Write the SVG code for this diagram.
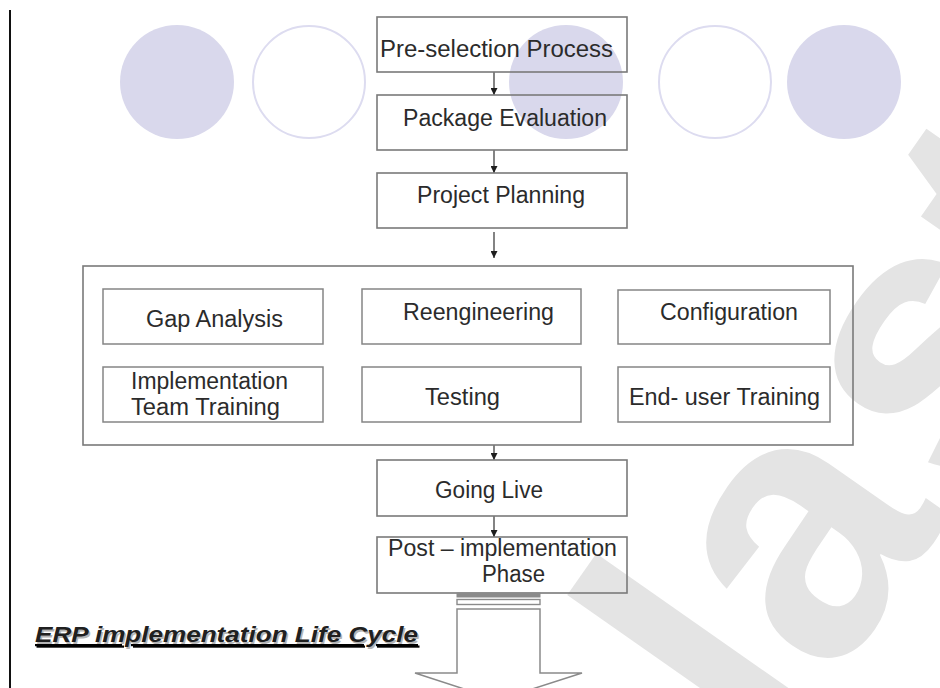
<svg xmlns="http://www.w3.org/2000/svg" width="940" height="688" viewBox="0 0 940 688">
  <defs>
    <style>
      .box { fill: none; stroke: #7a7a7a; stroke-width: 1.6; }
      .inner { fill: none; stroke: #858585; stroke-width: 1.5; }
      .lbl { font-family: "Liberation Sans", Arial, sans-serif; font-size: 23px; fill: #2b2b2b; }
      .dot { fill: #d9d8ec; }
      .ring { fill: none; stroke: #dddcf0; stroke-width: 2; }
      .wire { stroke: #1e1e1e; stroke-width: 1.1; fill: none; marker-end: url(#tip); }
      .mark { font-family: "Liberation Sans", Arial, sans-serif; font-weight: bold; font-size: 370px; fill: #e4e4e4; }
    </style>
    <marker id="tip" viewBox="0 0 8 8" refX="8" refY="4" markerWidth="7" markerHeight="7" markerUnits="userSpaceOnUse" orient="auto">
      <path d="M0,0 L8,4 L0,8 z" fill="#1e1e1e"/>
    </marker>
  </defs>

  <rect width="940" height="688" fill="#ffffff"/>

  <!-- faint background watermark -->
  <g id="watermark">
    <text class="mark" transform="translate(772,770) rotate(-55)" x="0" y="0">la<tspan dx="20">st</tspan></text>
  </g>

  <!-- page margin rule -->
  <line x1="10" y1="10" x2="10" y2="688" stroke="#111" stroke-width="2"/>

  <!-- decorative circles -->
  <g id="circles">
    <circle class="dot" cx="177" cy="82" r="57"/>
    <circle class="ring" cx="309" cy="82" r="56"/>
    <circle class="dot" cx="566" cy="82" r="57"/>
    <circle class="ring" cx="715" cy="82" r="56"/>
    <circle class="dot" cx="844" cy="82" r="57"/>
  </g>

  <!-- flow connectors -->
  <g id="connectors">
    <line class="wire" x1="494" y1="72" x2="494" y2="95"/>
    <line class="wire" x1="494" y1="150" x2="494" y2="173"/>
    <line class="wire" x1="494" y1="232" x2="494" y2="258"/>
    <line class="wire" x1="494" y1="445" x2="494" y2="460"/>
    <line class="wire" x1="494" y1="516" x2="494" y2="537"/>
  </g>

  <g id="preselection">
    <rect class="box" x="377" y="17" width="250" height="55"/>
    <text class="lbl" x="380" y="57" textLength="233" lengthAdjust="spacingAndGlyphs">Pre-selection Process</text>
  </g>
  <g id="package-evaluation">
    <rect class="box" x="377" y="95" width="250" height="55"/>
    <text class="lbl" x="403" y="126" textLength="204" lengthAdjust="spacingAndGlyphs">Package Evaluation</text>
  </g>
  <g id="project-planning">
    <rect class="box" x="377" y="173" width="250" height="55"/>
    <text class="lbl" x="417" y="203" textLength="168" lengthAdjust="spacingAndGlyphs">Project Planning</text>
  </g>

  <g id="implementation-stage">
    <rect class="box" x="83" y="266" width="770" height="179"/>
    <g id="gap-analysis">
      <rect class="inner" x="103" y="289" width="220" height="55"/>
      <text class="lbl" x="146" y="327" textLength="137" lengthAdjust="spacingAndGlyphs">Gap Analysis</text>
    </g>
    <g id="reengineering">
      <rect class="inner" x="362" y="289" width="219" height="55"/>
      <text class="lbl" x="403" y="320" textLength="151" lengthAdjust="spacingAndGlyphs">Reengineering</text>
    </g>
    <g id="configuration">
      <rect class="inner" x="618" y="290" width="212" height="54"/>
      <text class="lbl" x="660" y="320" textLength="138" lengthAdjust="spacingAndGlyphs">Configuration</text>
    </g>
    <g id="team-training">
      <rect class="inner" x="103" y="367" width="220" height="55"/>
      <text class="lbl" x="131" y="389" textLength="157" lengthAdjust="spacingAndGlyphs">Implementation</text>
      <text class="lbl" x="131" y="415" textLength="149" lengthAdjust="spacingAndGlyphs">Team Training</text>
    </g>
    <g id="testing">
      <rect class="inner" x="362" y="367" width="219" height="55"/>
      <text class="lbl" x="425" y="405" textLength="75" lengthAdjust="spacingAndGlyphs">Testing</text>
    </g>
    <g id="end-user-training">
      <rect class="inner" x="618" y="367" width="212" height="55"/>
      <text class="lbl" x="629" y="405" textLength="191" lengthAdjust="spacingAndGlyphs">End- user Training</text>
    </g>
  </g>

  <g id="going-live">
    <rect class="box" x="377" y="460" width="250" height="56"/>
    <text class="lbl" x="435" y="498" textLength="108" lengthAdjust="spacingAndGlyphs">Going Live</text>
  </g>
  <g id="post-implementation">
    <rect class="box" x="377" y="537" width="250" height="56"/>
    <text class="lbl" x="388" y="556" textLength="229" lengthAdjust="spacingAndGlyphs">Post – implementation</text>
    <text class="lbl" x="482" y="582" textLength="63" lengthAdjust="spacingAndGlyphs">Phase</text>
  </g>

  <!-- striped block arrow leaving the last phase -->
  <g id="exit-arrow">
    <rect x="457" y="593" width="83" height="4" fill="#8a8a8a" stroke="#8a8a8a" stroke-width="1"/>
    <rect x="457" y="599.5" width="83" height="5" fill="#ffffff" stroke="#8a8a8a" stroke-width="1.4"/>
    <path d="M457,609 L540,609 L540,673 L582,673 L498,700 L415,673 L457,673 Z" fill="#ffffff" stroke="#8a8a8a" stroke-width="1.5"/>
  </g>

  <!-- caption -->
  <g id="caption" font-family="'Liberation Sans', Arial, sans-serif" font-weight="bold" font-style="italic" font-size="22px" text-decoration="underline">
    <text x="36.5" y="643.5" fill="#b5b5b5" textLength="383" lengthAdjust="spacingAndGlyphs">ERP implementation Life Cycle</text>
    <text x="35" y="642" fill="#202020" textLength="383" lengthAdjust="spacingAndGlyphs">ERP implementation Life Cycle</text>
  </g>
</svg>
